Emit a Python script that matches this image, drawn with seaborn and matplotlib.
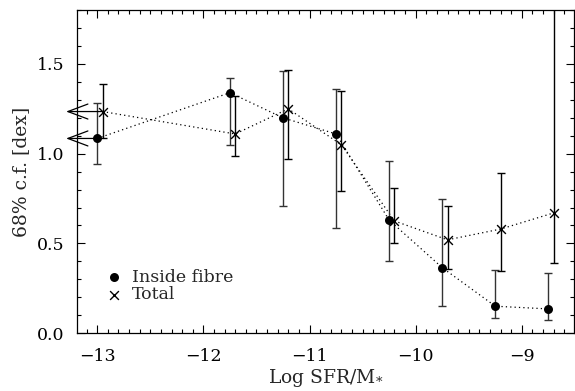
import numpy as np
import pandas as pd
import matplotlib
matplotlib.use("Agg")
import matplotlib.pyplot as plt
import seaborn as sns
from matplotlib.ticker import MultipleLocator

# Data
x_fibre = [-13.0, -11.75, -11.25, -10.75, -10.25, -9.75, -9.25, -8.75]
y_fibre = [1.085, 1.34, 1.20, 1.11, 0.63, 0.365, 0.15, 0.135]
lo_fibre = [0.94, 1.05, 0.71, 0.585, 0.40, 0.15, 0.085, 0.072]
hi_fibre = [1.28, 1.42, 1.46, 1.36, 0.96, 0.75, 0.35, 0.335]

x_total = [-12.95, -11.70, -11.20, -10.70, -10.20, -9.70, -9.20, -8.70]
y_total = [1.235, 1.11, 1.25, 1.05, 0.625, 0.52, 0.58, 0.67]
lo_total = [1.085, 0.99, 0.97, 0.79, 0.50, 0.355, 0.345, 0.39]
hi_total = [1.39, 1.32, 1.465, 1.35, 0.81, 0.71, 0.89, 1.85]

labels = ["Inside fibre", "Total"]

sns.set_theme(style="ticks")
plt.rcParams["font.family"] = ["DejaVu Serif"]
plt.rcParams["mathtext.fontset"] = "dejavuserif"

fig = plt.figure(figsize=(5.75, 3.91), dpi=100)
ax = fig.add_axes([0.134, 0.148, 0.864, 0.826])

df_f = pd.DataFrame({"x": x_fibre, "y": y_fibre})
df_t = pd.DataFrame({"x": x_total, "y": y_total})

# dotted connecting lines
sns.lineplot(data=df_f, x="x", y="y", ax=ax, color="black", lw=0.9,
             linestyle=(0, (1, 2.5)), sort=False, estimator=None)
sns.lineplot(data=df_t, x="x", y="y", ax=ax, color="black", lw=0.9,
             linestyle=(0, (1, 2.5)), sort=False, estimator=None)

# error bars
yf = np.array(y_fibre); yt = np.array(y_total)
ax.errorbar(x_fibre, yf, yerr=[yf - np.array(lo_fibre), np.array(hi_fibre) - yf],
            fmt="none", ecolor="#333333", elinewidth=1.0, capsize=2.7, capthick=1.0)
ax.errorbar(x_total, yt, yerr=[yt - np.array(lo_total), np.array(hi_total) - yt],
            fmt="none", ecolor="black", elinewidth=1.0, capsize=2.7, capthick=1.0)

# markers
sns.scatterplot(data=df_f, x="x", y="y", ax=ax, marker="o", color="black",
                s=42, edgecolor="black", linewidth=0, label=labels[0], zorder=5)
sns.scatterplot(data=df_t, x="x", y="y", ax=ax, marker="x", color="black",
                s=40, linewidth=1.0, label=labels[1], zorder=5)

# left-pointing arrows from first bin
for xs, ys in ((x_fibre[0], y_fibre[0]), (x_total[0], y_total[0])):
    ax.annotate("", xy=(-0.022, ys), xycoords=("axes fraction", "data"),
                xytext=(xs, ys), textcoords="data",
                arrowprops=dict(arrowstyle="->,head_length=1.2,head_width=0.45",
                                color="black", lw=0.9, shrinkA=0, shrinkB=0),
                annotation_clip=False)

ax.set_xlim(-13.19, -8.51)
ax.set_ylim(0, 1.8)
ax.xaxis.set_major_locator(MultipleLocator(1))
ax.xaxis.set_minor_locator(MultipleLocator(0.1))
ax.yaxis.set_major_locator(MultipleLocator(0.5))
ax.yaxis.set_minor_locator(MultipleLocator(0.1))
ax.xaxis.set_major_formatter(matplotlib.ticker.FuncFormatter(lambda v, p: f"\u2212{abs(v):.0f}" if v < 0 else f"{v:.0f}"))
ax.yaxis.set_major_formatter(matplotlib.ticker.FormatStrFormatter("%.1f"))
ax.tick_params(which="both", direction="in", top=True, right=True, colors="black",
               labelsize=12.5)
ax.tick_params(axis="x", which="major", pad=11)
ax.tick_params(axis="y", which="major", pad=9)
ax.tick_params(which="major", length=6, width=0.8)
ax.tick_params(which="minor", length=3, width=0.8)
for s in ax.spines.values():
    s.set_visible(True)
    s.set_linewidth(0.9)
    s.set_color("black")

ax.set_xlabel(r"Log SFR/M$_{*}$", fontsize=13.5, labelpad=1)
ax.set_ylabel("68% c.f. [dex]", fontsize=13.5, labelpad=5)

leg = ax.legend(loc="lower left", bbox_to_anchor=(0.04, 0.065), frameon=False,
                fontsize=12.5, handletextpad=0.5, labelspacing=0.05, borderpad=0.0,
                markerscale=1.0, handlelength=1.0)

fig.savefig("out.png", dpi=100)
